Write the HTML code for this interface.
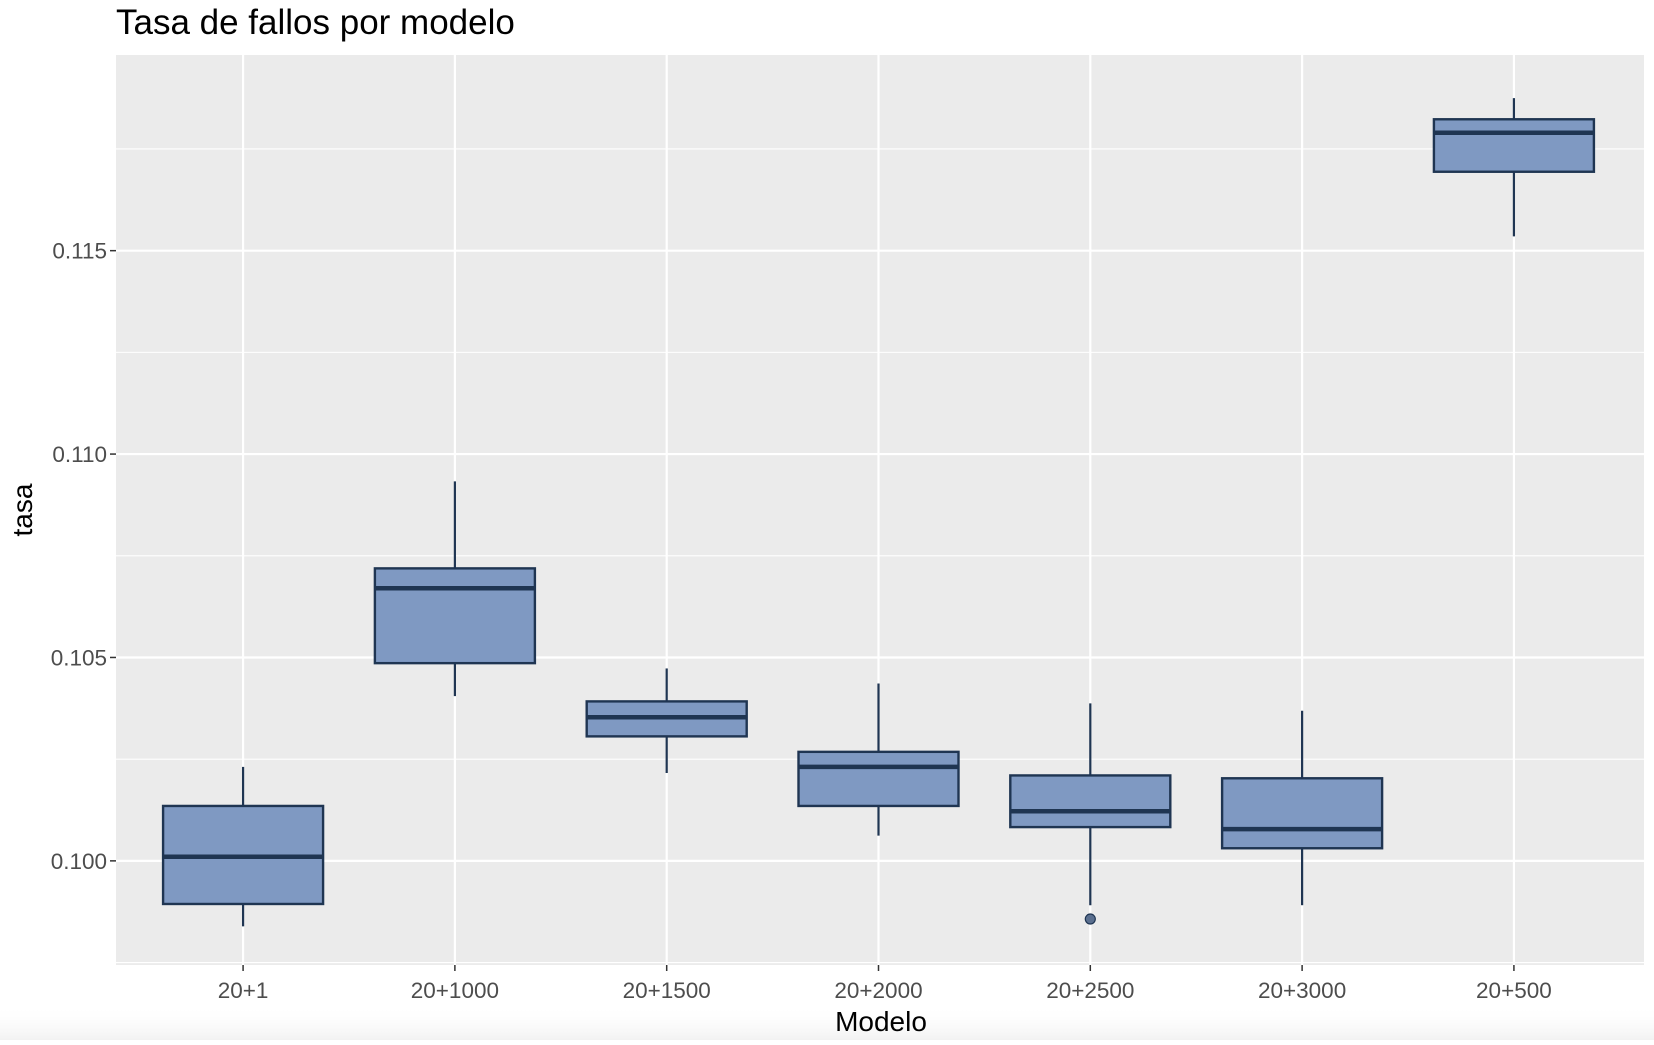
<!DOCTYPE html>
<html><head><meta charset="utf-8"><style>
html,body{margin:0;padding:0;background:#fff;}
svg text{font-family:"Liberation Sans",Arial,sans-serif;}
</style></head><body>
<svg id="chart" width="1654" height="1040" xmlns="http://www.w3.org/2000/svg">
<defs><linearGradient id="fade" x1="0" y1="0" x2="0" y2="1"><stop offset="0" stop-color="#fff" stop-opacity="0"/><stop offset="1" stop-color="#f2f2f2"/></linearGradient></defs>
<rect x="0" y="1005" width="1654" height="35" fill="url(#fade)"/>
<text x="116" y="34" font-size="35" fill="#000">Tasa de fallos por modelo</text>
<rect x="116" y="55" width="1528" height="910" fill="#ebebeb"/>
<g id="grid"></g><g id="boxes"></g><g id="axes"></g>
<text x="881" y="1031" font-size="28" text-anchor="middle" fill="#000">Modelo</text>
<text transform="translate(32,510) rotate(-90)" font-size="28" text-anchor="middle" fill="#000">tasa</text>
</svg>
<script>
const categories=["20+1","20+1000","20+1500","20+2000","20+2500","20+3000","20+500"];
const whiskerLow=[0.09839,0.10405,0.10216,0.10062,0.09891,0.09891,0.11535];
const q1=[0.09894,0.10486,0.10306,0.10135,0.10083,0.10031,0.11694];
const median=[0.10010,0.10670,0.10353,0.10231,0.10122,0.10078,0.11790];
const q3=[0.10135,0.10719,0.10392,0.10268,0.10210,0.10203,0.11823];
const whiskerHigh=[0.10231,0.10933,0.10473,0.10436,0.10387,0.10369,0.11875];
const outliers=[[],[],[],[],[0.09857],[],[]];
const yTicks=[0.100,0.105,0.110,0.115];
const yTickLabels=["0.100","0.105","0.110","0.115"];

const NS="http://www.w3.org/2000/svg";
const L=116,R=1641,T=55,B=965,yMin=0.09744,yMax=0.11981;
const x=i=>L+(i+0.5+0.1)*((R-L)/(categories.length+0.2));
const y=v=>B-(v-yMin)/(yMax-yMin)*(B-T);
function mk(tag,attrs,parent){const e=document.createElementNS(NS,tag);for(const k in attrs)e.setAttribute(k,attrs[k]);parent.appendChild(e);return e;}
const grid=document.getElementById('grid'),boxes=document.getElementById('boxes'),axes=document.getElementById('axes');
for(let v=0.0975;v<yMax;v+=0.0025){
  const yy=y(v);const major=Math.abs(Math.round(v*200)-v*200)<1e-6;
  const g=mk('line',{x1:L,x2:1644,y1:yy,y2:yy,stroke:'#fff','stroke-width':major?2.2:1.1},grid);
  
  
}
categories.forEach((c,i)=>{
  const g=mk('line',{x1:x(i),x2:x(i),y1:T,y2:B,stroke:'#fff','stroke-width':2.2},grid);
  
  
  const tk=mk('line',{x1:x(i),x2:x(i),y1:B,y2:B+6,stroke:'#333','stroke-width':1.5},axes);
  
  
  const t=mk('text',{x:x(i),y:B+33,'font-size':22.5,'text-anchor':'middle',fill:'#4d4d4d'},axes);
  t.textContent=c;
  
  
});
yTicks.forEach((v,i)=>{
  const tk=mk('line',{x1:L-6,x2:L,y1:y(v),y2:y(v),stroke:'#333','stroke-width':1.5},axes);
  
  
  const t=mk('text',{x:L-9,y:y(v)+8,'font-size':22.5,'text-anchor':'end',fill:'#4d4d4d'},axes);
  t.textContent=yTickLabels[i];
  
  
});
const bw=160;
categories.forEach((c,i)=>{
  const g=mk('g',{},boxes);
  
  
  const cx=x(i),st='#1f3552';
  mk('line',{x1:cx,x2:cx,y1:y(whiskerHigh[i]),y2:y(q3[i]),stroke:st,'stroke-width':2.2},g);
  mk('line',{x1:cx,x2:cx,y1:y(q1[i]),y2:y(whiskerLow[i]),stroke:st,'stroke-width':2.2},g);
  mk('rect',{x:cx-bw/2,y:y(q3[i]),width:bw,height:y(q1[i])-y(q3[i]),fill:'#7f99c2',stroke:st,'stroke-width':2.4},g);
  mk('line',{x1:cx-bw/2,x2:cx+bw/2,y1:y(median[i]),y2:y(median[i]),stroke:st,'stroke-width':4.5},g);
  outliers[i].forEach(o=>{
    const p=mk('circle',{cx:cx,cy:y(o),r:5,fill:'#5a6f8f',stroke:st,'stroke-width':1.2},g);
    
    
  });
});
</script>
</body></html>
